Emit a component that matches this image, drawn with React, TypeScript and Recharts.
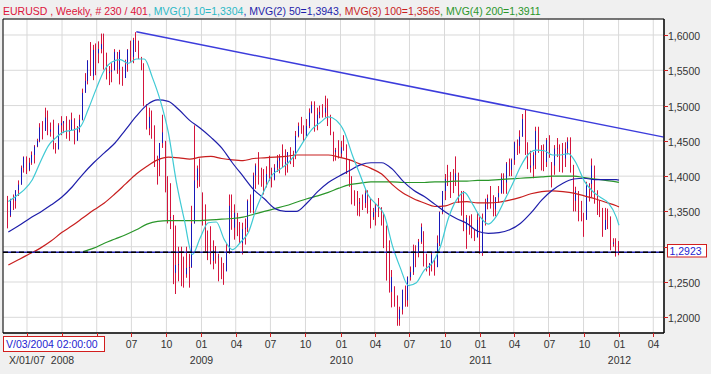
import React from "react";
import {
  ComposedChart,
  Bar,
  Line,
  XAxis,
  YAxis,
  CartesianGrid,
  ReferenceLine,
  ReferenceArea,
} from "recharts";

// ---------------- data ----------------
const symbol = "EURUSD";
const period = "Weekly";
const cursorBar = 230;
const totalBars = 401;

// weekly bars, first bar = week of 13 Aug 2007, one bar per week
const firstBarUTC = [2007, 7, 13];
const firstOpen = 1.367;

const highs = [
  1.372, 1.368, 1.374, 1.38, 1.394, 1.415, 1.428, 1.428, 1.426, 1.435,
  1.444, 1.453, 1.475, 1.478, 1.497, 1.493, 1.476, 1.48, 1.447, 1.475,
  1.485, 1.478, 1.485, 1.48, 1.49, 1.482, 1.471, 1.487, 1.524, 1.546,
  1.564, 1.59, 1.586, 1.588, 1.591, 1.602, 1.602, 1.575, 1.556, 1.56,
  1.58, 1.576, 1.579, 1.555, 1.565, 1.58, 1.592, 1.596, 1.604, 1.592,
  1.569, 1.56, 1.502, 1.497, 1.493, 1.472, 1.429, 1.447, 1.487, 1.45,
  1.4, 1.39, 1.345, 1.33, 1.3, 1.3, 1.286, 1.3, 1.29, 1.358,
  1.472, 1.415, 1.425, 1.377, 1.36, 1.323, 1.329, 1.309, 1.301, 1.29,
  1.285, 1.277, 1.305, 1.374, 1.374, 1.36, 1.348, 1.335, 1.334, 1.34,
  1.367, 1.374, 1.405, 1.418, 1.434, 1.412, 1.41, 1.414, 1.429, 1.412,
  1.417, 1.43, 1.431, 1.445, 1.438, 1.434, 1.441, 1.436, 1.464, 1.476,
  1.484, 1.472, 1.481, 1.496, 1.506, 1.506, 1.497, 1.5, 1.502, 1.514,
  1.51, 1.487, 1.463, 1.44, 1.451, 1.45, 1.458, 1.445, 1.424, 1.4,
  1.38, 1.379, 1.369, 1.374, 1.382, 1.38, 1.368, 1.355, 1.361, 1.369,
  1.356, 1.348, 1.33, 1.309, 1.267, 1.244, 1.231, 1.215, 1.239, 1.245,
  1.258, 1.272, 1.303, 1.302, 1.311, 1.333, 1.322, 1.29, 1.277, 1.292,
  1.283, 1.316, 1.35, 1.379, 1.403, 1.416, 1.406, 1.41, 1.428, 1.405,
  1.379, 1.379, 1.345, 1.344, 1.346, 1.324, 1.348, 1.342, 1.347, 1.368,
  1.374, 1.386, 1.373, 1.37, 1.386, 1.404, 1.404, 1.42, 1.425, 1.425,
  1.449, 1.452, 1.465, 1.488, 1.494, 1.448, 1.436, 1.434, 1.47, 1.47,
  1.444, 1.445, 1.454, 1.458, 1.42, 1.444, 1.454, 1.445, 1.447, 1.448,
  1.455, 1.455, 1.416, 1.385, 1.379, 1.365, 1.348, 1.392, 1.39, 1.425,
  1.415, 1.38, 1.366, 1.355, 1.355, 1.354, 1.343, 1.312, 1.312, 1.308,
];

const lows = [
  1.326, 1.342, 1.352, 1.354, 1.372, 1.388, 1.405, 1.403, 1.407, 1.416,
  1.418, 1.441, 1.448, 1.452, 1.47, 1.458, 1.456, 1.438, 1.432, 1.438,
  1.458, 1.461, 1.453, 1.45, 1.47, 1.445, 1.451, 1.462, 1.479, 1.519,
  1.53, 1.542, 1.536, 1.543, 1.56, 1.574, 1.551, 1.537, 1.529, 1.533,
  1.55, 1.545, 1.53, 1.528, 1.541, 1.548, 1.562, 1.56, 1.576, 1.566,
  1.55, 1.499, 1.466, 1.458, 1.453, 1.413, 1.388, 1.4, 1.44, 1.377,
  1.333, 1.325, 1.247, 1.233, 1.251, 1.244, 1.242, 1.256, 1.242, 1.27,
  1.333, 1.383, 1.385, 1.33, 1.293, 1.281, 1.275, 1.268, 1.276, 1.251,
  1.254, 1.246, 1.274, 1.29, 1.324, 1.31, 1.315, 1.305, 1.289, 1.303,
  1.321, 1.348, 1.347, 1.382, 1.388, 1.385, 1.374, 1.384, 1.393, 1.384,
  1.394, 1.406, 1.404, 1.413, 1.401, 1.405, 1.417, 1.413, 1.424, 1.455,
  1.46, 1.449, 1.457, 1.468, 1.489, 1.463, 1.465, 1.482, 1.483, 1.483,
  1.471, 1.458, 1.421, 1.422, 1.425, 1.426, 1.436, 1.403, 1.385, 1.36,
  1.358, 1.344, 1.343, 1.352, 1.355, 1.347, 1.326, 1.338, 1.33, 1.342,
  1.33, 1.298, 1.252, 1.235, 1.214, 1.215, 1.188, 1.188, 1.204, 1.215,
  1.215, 1.252, 1.26, 1.271, 1.285, 1.304, 1.272, 1.265, 1.259, 1.265,
  1.259, 1.284, 1.301, 1.346, 1.366, 1.386, 1.369, 1.376, 1.386, 1.362,
  1.344, 1.322, 1.297, 1.317, 1.312, 1.308, 1.314, 1.29, 1.287, 1.33,
  1.353, 1.354, 1.343, 1.343, 1.362, 1.375, 1.375, 1.375, 1.4, 1.4,
  1.416, 1.43, 1.432, 1.456, 1.43, 1.41, 1.405, 1.397, 1.41, 1.433,
  1.408, 1.407, 1.413, 1.426, 1.384, 1.402, 1.427, 1.406, 1.405, 1.413,
  1.431, 1.405, 1.35, 1.35, 1.336, 1.336, 1.314, 1.339, 1.364, 1.37,
  1.361, 1.345, 1.342, 1.314, 1.324, 1.325, 1.295, 1.3, 1.286, 1.288,
];

const closes = [
  1.344, 1.367, 1.365, 1.38, 1.388, 1.412, 1.427, 1.409, 1.419, 1.43,
  1.442, 1.45, 1.469, 1.464, 1.483, 1.463, 1.466, 1.442, 1.438, 1.472,
  1.475, 1.478, 1.463, 1.465, 1.48, 1.45, 1.466, 1.48, 1.518, 1.535,
  1.564, 1.542, 1.579, 1.574, 1.58, 1.587, 1.562, 1.546, 1.548, 1.55,
  1.576, 1.551, 1.576, 1.539, 1.558, 1.579, 1.569, 1.593, 1.586, 1.571,
  1.558, 1.501, 1.468, 1.484, 1.467, 1.428, 1.421, 1.447, 1.462, 1.379,
  1.341, 1.342, 1.263, 1.274, 1.275, 1.262, 1.261, 1.27, 1.271, 1.333,
  1.394, 1.411, 1.392, 1.345, 1.324, 1.287, 1.28, 1.295, 1.285, 1.286,
  1.267, 1.265, 1.293, 1.358, 1.327, 1.348, 1.321, 1.305, 1.325, 1.327,
  1.365, 1.352, 1.401, 1.415, 1.397, 1.396, 1.392, 1.403, 1.396, 1.395,
  1.412, 1.422, 1.426, 1.418, 1.42, 1.434, 1.43, 1.429, 1.457, 1.471,
  1.461, 1.457, 1.471, 1.49, 1.501, 1.472, 1.487, 1.491, 1.49, 1.497,
  1.476, 1.462, 1.434, 1.437, 1.432, 1.441, 1.438, 1.414, 1.387, 1.367,
  1.362, 1.361, 1.363, 1.362, 1.376, 1.353, 1.342, 1.349, 1.357, 1.35,
  1.338, 1.329, 1.276, 1.236, 1.257, 1.227, 1.197, 1.211, 1.239, 1.224,
  1.257, 1.264, 1.294, 1.291, 1.307, 1.328, 1.275, 1.27, 1.276, 1.289,
  1.271, 1.305, 1.349, 1.379, 1.396, 1.395, 1.395, 1.394, 1.404, 1.367,
  1.367, 1.324, 1.341, 1.329, 1.319, 1.313, 1.338, 1.291, 1.338, 1.361,
  1.369, 1.359, 1.353, 1.37, 1.376, 1.398, 1.391, 1.418, 1.409, 1.423,
  1.448, 1.443, 1.456, 1.481, 1.431, 1.412, 1.415, 1.43, 1.464, 1.435,
  1.431, 1.42, 1.451, 1.426, 1.415, 1.439, 1.44, 1.428, 1.425, 1.439,
  1.449, 1.421, 1.365, 1.379, 1.35, 1.339, 1.338, 1.388, 1.389, 1.415,
  1.378, 1.375, 1.352, 1.324, 1.338, 1.338, 1.304, 1.306, 1.296, 1.2923,
];

// moving averages at every Nth bar, plus the last bar
const ma10Periods = 10;
const ma10Step = 3;
const ma10Values = [
  1.364, 1.372, 1.381, 1.395, 1.42, 1.443, 1.455, 1.463, 1.465, 1.47,
  1.495, 1.524, 1.55, 1.562, 1.565, 1.56, 1.566, 1.566, 1.54, 1.507,
  1.462, 1.392, 1.338, 1.289, 1.313, 1.334, 1.335, 1.31, 1.296, 1.306,
  1.32, 1.354, 1.38, 1.402, 1.41, 1.419, 1.433, 1.451, 1.467, 1.476,
  1.484, 1.479, 1.463, 1.43, 1.401, 1.373, 1.36, 1.345, 1.302, 1.27,
  1.245, 1.249, 1.267, 1.277, 1.3, 1.34, 1.366, 1.377, 1.361, 1.342,
  1.332, 1.343, 1.365, 1.388, 1.413, 1.431, 1.437, 1.436, 1.43, 1.43,
  1.432, 1.418, 1.393, 1.379, 1.37, 1.362, 1.342,
];
const ma10Last = 1.3304;

const ma50Periods = 50;
const ma50Step = 4;
const ma50Values = [
  1.321, 1.33, 1.34, 1.349, 1.359, 1.37, 1.385, 1.403, 1.419, 1.433,
  1.447, 1.466, 1.485, 1.501, 1.508, 1.506, 1.494, 1.479, 1.468, 1.455,
  1.44, 1.419, 1.4, 1.381, 1.368, 1.354, 1.35, 1.35, 1.362, 1.378,
  1.391, 1.4, 1.408, 1.416, 1.419, 1.419, 1.41, 1.393, 1.38, 1.371,
  1.36, 1.349, 1.34, 1.333, 1.322, 1.319, 1.32, 1.324, 1.333, 1.348,
  1.366, 1.38, 1.39, 1.396, 1.397, 1.395, 1.395, 1.395,
];
const ma50Last = 1.3943;

const ma100Periods = 100;
const ma100Step = 4;
const ma100Values = [
  1.274, 1.282, 1.29, 1.298, 1.308, 1.32, 1.33, 1.341, 1.352, 1.362,
  1.375, 1.389, 1.403, 1.414, 1.423, 1.427, 1.426, 1.424, 1.427, 1.428,
  1.425, 1.423, 1.422, 1.425, 1.426, 1.427, 1.428, 1.43, 1.43, 1.43,
  1.43, 1.427, 1.423, 1.417, 1.411, 1.403, 1.388, 1.376, 1.368, 1.362,
  1.357, 1.358, 1.363, 1.364, 1.362, 1.362, 1.363, 1.366, 1.37, 1.375,
  1.378, 1.379, 1.378, 1.376, 1.372, 1.368, 1.363, 1.358,
];
const ma100Last = 1.3565;

const ma200Periods = 200;
const ma200FirstBar = 28;
const ma200Step = 4;
const ma200Values = [
  1.293, 1.298, 1.305, 1.311, 1.317, 1.324, 1.332, 1.336, 1.337, 1.337,
  1.337, 1.337, 1.338, 1.339, 1.34, 1.342, 1.346, 1.35, 1.354, 1.358,
  1.363, 1.368, 1.372, 1.377, 1.383, 1.388, 1.39, 1.392, 1.392, 1.392,
  1.391, 1.391, 1.391, 1.392, 1.392, 1.393, 1.393, 1.394, 1.394, 1.395,
  1.396, 1.397, 1.398, 1.399, 1.4, 1.4, 1.4, 1.398, 1.396, 1.394, 1.392,
];
const ma200Last = 1.3911;

// trend line (from the July 2008 top) and the last price
const trendStartBar = 48;
const trendStartPrice = 1.6045;
const trendEndPrice = 1.4553;
const lastPrice = 1.2923;

// axes
const quarterTicks = [
  [2007, 10], [2008, 1], [2008, 4], [2008, 7], [2008, 10],
  [2009, 1], [2009, 4], [2009, 7], [2009, 10],
  [2010, 1], [2010, 4], [2010, 7], [2010, 10],
  [2011, 1], [2011, 4], [2011, 7], [2011, 10],
  [2012, 1], [2012, 4],
];
const priceTicks = [1.2, 1.25, 1.3, 1.35, 1.4, 1.45, 1.5, 1.55, 1.6];
const cursorLabel = "V/03/2004 02:00:00";
const cursorDateLabel = "X/01/07";

// ---------------- layout / style ----------------
const W = 711;
const H = 374;
const DAY = 86400000;
const AXIS_ORIGIN = Date.UTC(2007, 9, 1);
const X_DOMAIN: [number, number] = [-63.0, 1672.2];
const Y_DOMAIN: [number, number] = [1.17775, 1.62267];
const FONT = "'Liberation Sans', Arial, sans-serif";

// overlay boxes (cursor labels) cover the axis labels underneath them
const CURSOR_BOX = { x: 3.5, y: 336.5, w: 101, h: 15 };
const PRICE_BOX = { x: 667.5, y: 244.5, w: 39, h: 12.5 };

const C_BAR_RED = "#d4143c";
const C_BAR_BLUE = "#1818b8";
const C_MA10 = "#3fcad4";
const C_MA50 = "#1e1eaa";
const C_MA100 = "#c81e1e";
const C_MA200 = "#2a962a";
const C_TREND = "#3c3cdc";
const C_TEXT = "#333333";
const C_TICK = "#d02020";

const dayOf = (ms: number) => (ms - AXIS_ORIGIN) / DAY;
const firstBarMs = Date.UTC(firstBarUTC[0], firstBarUTC[1], firstBarUTC[2]);
const barX = (j: number) => dayOf(firstBarMs + j * 7 * DAY);
const lastBar = closes.length - 1;

const bars = closes.map((c, j) => ({
  x: barX(j),
  range: [lows[j], highs[j]],
  high: highs[j],
  low: lows[j],
  open: j === 0 ? firstOpen : closes[j - 1],
  close: c,
}));

const maSeries = (values: number[], first: number, step: number, last: number) => {
  const pts = values.map((v, k) => ({ x: barX(first + k * step), v }));
  pts.push({ x: barX(lastBar), v: last });
  return pts;
};

const ma10Data = maSeries(ma10Values, 0, ma10Step, ma10Last);
const ma50Data = maSeries(ma50Values, 0, ma50Step, ma50Last);
const ma100Data = maSeries(ma100Values, 0, ma100Step, ma100Last);
const ma200Data = maSeries(ma200Values, ma200FirstBar, ma200Step, ma200Last);

const xTicks = quarterTicks.map(([y, m]) => dayOf(Date.UTC(y, m - 1, 1)));
const fmtPrice = (v: number) => v.toFixed(4).replace(".", ",");

const OhlcShape = (props: any) => {
  const { x, y, width, height, payload } = props;
  if (x == null || y == null || !payload) return null;
  const cx = Math.round(x + width / 2) - 0.5;
  const span = payload.high - payload.low;
  const k = span > 0 ? height / span : 0;
  const up = payload.close > payload.open;
  return (
    <g>
      <line x1={cx} x2={cx} y1={y} y2={y + height} stroke={C_BAR_RED} strokeWidth={1} />
      {up && (
        <line
          x1={cx}
          x2={cx}
          y1={y + (payload.high - payload.close) * k}
          y2={y + (payload.high - payload.open) * k}
          stroke={C_BAR_BLUE}
          strokeWidth={1}
        />
      )}
    </g>
  );
};

const XTick = (props: any) => {
  const { x, y, payload } = props;
  const d = new Date(AXIS_ORIGIN + payload.value * DAY + DAY / 2);
  const m = d.getUTCMonth() + 1;
  const px = Math.round(x) + 0.5;
  const underBox = px < CURSOR_BOX.x + CURSOR_BOX.w + 6;
  return (
    <g>
      <line x1={px} x2={px} y1={y} y2={y + 4} stroke={C_TICK} />
      {!underBox && (
        <text x={px} y={y + 14.5} textAnchor="middle" fontSize={10.5} fontFamily={FONT} fill={C_TEXT}>
          {String(m).padStart(2, "0")}
        </text>
      )}
      {m === 1 && (
        <text x={px} y={y + 30.5} textAnchor="middle" fontSize={10.5} fontFamily={FONT} fill={C_TEXT}>
          {d.getUTCFullYear()}
        </text>
      )}
    </g>
  );
};

const YTick = (props: any) => {
  const { x, y, payload } = props;
  const py = Math.round(y) + 0.5;
  const underBox = py > PRICE_BOX.y - 4 && py < PRICE_BOX.y + PRICE_BOX.h + 4;
  return (
    <g>
      <line x1={x} x2={x + 4} y1={py} y2={py} stroke={C_TICK} />
      {!underBox && (
        <text x={x + 4} y={py + 4} textAnchor="start" fontSize={10.5} fontFamily={FONT} fill={C_TEXT}>
          {fmtPrice(payload.value)}
        </text>
      )}
    </g>
  );
};

export default function App() {
  const header = [
    { t: `${symbol} , ${period}, # ${cursorBar} / ${totalBars}`, c: "#dc143c" },
    { t: `, MVG(1) ${ma10Periods}=${fmtPrice(ma10Last)}`, c: "#2bb8c6" },
    { t: `, MVG(2) ${ma50Periods}=${fmtPrice(ma50Last)}`, c: C_MA50 },
    { t: `, MVG(3) ${ma100Periods}=${fmtPrice(ma100Last)}`, c: C_MA100 },
    { t: `, MVG(4) ${ma200Periods}=${fmtPrice(ma200Last)}`, c: C_MA200 },
  ];
  return (
    <div style={{ position: "absolute", left: 0, top: 0, width: W, height: H, background: "#f0f0f0", overflow: "hidden" }}>
      <ComposedChart
        width={W}
        height={H}
        data={bars}
        margin={{ top: 19, right: 0, bottom: 0, left: 3 }}
      >
        <CartesianGrid stroke="#d9d9d9" fill="#ffffff" />
        <XAxis
          type="number"
          dataKey="x"
          domain={X_DOMAIN}
          ticks={xTicks}
          allowDataOverflow
          interval={0}
          height={41}
          tickSize={0}
          tickMargin={0}
          tickLine={false}
          axisLine={{ stroke: "#000" }}
          tick={(p: any) => <XTick {...p} />}
        />
        <YAxis
          type="number"
          orientation="right"
          domain={Y_DOMAIN}
          ticks={priceTicks}
          allowDataOverflow
          interval={0}
          width={47}
          tickSize={0}
          tickMargin={0}
          tickLine={false}
          axisLine={{ stroke: "#000" }}
          tick={(p: any) => <YTick {...p} />}
        />
        <ReferenceArea
          x1={X_DOMAIN[0]}
          x2={X_DOMAIN[1]}
          y1={Y_DOMAIN[0]}
          y2={Y_DOMAIN[1]}
          fill="none"
          stroke="#000"
          fillOpacity={0}
        />
        <Line data={ma200Data} dataKey="v" type="monotone" stroke={C_MA200} strokeWidth={1.2} dot={false} activeDot={false} isAnimationActive={false} />
        <Line data={ma100Data} dataKey="v" type="monotone" stroke={C_MA100} strokeWidth={1.2} dot={false} activeDot={false} isAnimationActive={false} />
        <Line data={ma50Data} dataKey="v" type="monotone" stroke={C_MA50} strokeWidth={1.2} dot={false} activeDot={false} isAnimationActive={false} />
        <Bar dataKey="range" barSize={1} isAnimationActive={false} shape={(p: any) => <OhlcShape {...p} />} />
        <Line data={ma10Data} dataKey="v" type="monotone" stroke={C_MA10} strokeWidth={1.2} dot={false} activeDot={false} isAnimationActive={false} />
        <ReferenceLine y={lastPrice} stroke="#1e1eaa" strokeWidth={1.5} />
        <ReferenceLine y={lastPrice} stroke="#000" strokeWidth={1.5} strokeDasharray="5 3" />
        <ReferenceLine
          segment={[
            { x: barX(trendStartBar), y: trendStartPrice },
            { x: X_DOMAIN[1], y: trendEndPrice },
          ]}
          stroke={C_TREND}
          strokeWidth={1.5}
        />
      </ComposedChart>
      <svg width={W} height={H} style={{ position: "absolute", left: 0, top: 0, pointerEvents: "none" }}>
        <text x={3} y={15} fontSize={10.5} fontFamily={FONT}>
          {header.map((h, i) => (
            <tspan key={i} fill={h.c}>{h.t}</tspan>
          ))}
        </text>
        <rect x={CURSOR_BOX.x} y={CURSOR_BOX.y} width={CURSOR_BOX.w} height={CURSOR_BOX.h} fill="#fff" stroke="#d21e1e" />
        <text x={6} y={347.5} fontSize={10.5} fontFamily={FONT} fill="#2424d0">{cursorLabel}</text>
        <text x={9} y={363.5} fontSize={10.5} fontFamily={FONT} fill={C_TEXT}>{cursorDateLabel}</text>
        <rect x={PRICE_BOX.x} y={PRICE_BOX.y} width={PRICE_BOX.w} height={PRICE_BOX.h} fill="#fff" stroke="#d21e1e" />
        <text x={669.5} y={254.5} fontSize={10.5} fontFamily={FONT} fill="#2424d0">{fmtPrice(lastPrice)}</text>
      </svg>
    </div>
  );
}
